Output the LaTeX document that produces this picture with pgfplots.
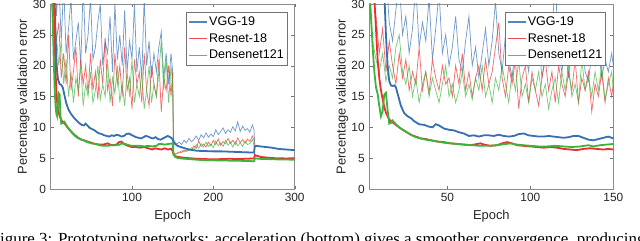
\documentclass[border=0pt]{standalone}
\usepackage{fontspec}
\setmainfont{Liberation Sans}
\newfontfamily\capfont{Liberation Serif}
\usepackage{pgfplots}
\pgfplotsset{compat=1.18}
\definecolor{vgg}{RGB}{55,112,178}
\definecolor{res}{RGB}{238,45,45}
\definecolor{den}{RGB}{60,180,60}
\pgfplotsset{
  myaxis/.style={
    scale only axis, width=183pt, height=138.75pt,
    ymin=0, ymax=30, ytick={0,5,...,30},
    tick align=inside, major tick length=2.5pt,
    axis line style={black!45}, tick style={black!55},
    /pgf/number format/assume math mode=true,
    tick label style={font=\fontsize{8.9}{10}\selectfont, text=black!85},
    label style={font=\fontsize{9.7}{11}\selectfont, text=black!85},
    xlabel={Epoch}, ylabel={Percentage validation error},
    xlabel style={yshift=1pt},
    ylabel style={yshift=-4.5pt},
    legend cell align=left,
    legend style={at={(0.97,0.955)}, anchor=north east, draw=black!55, fill=white,
      font=\fontsize{9.4}{10}\selectfont, inner sep=1.5pt,
      nodes={inner sep=1pt, text height=7pt, text depth=2pt}, row sep=1.6pt},
    legend image code/.code={\draw[#1, opacity=0.85, line width=1pt] (0,0) -- (13.5pt,0);},
  },
  noisy/.style={line width=0.55pt, opacity=0.7},
  smooth line/.style={line width=1.35pt, forget plot},
}
\begin{document}
\begin{tikzpicture}
\useasboundingbox (0,0) rectangle (480pt,180.75pt);
\clip (0,0) rectangle (480pt,180.75pt);
\begin{axis}[myaxis, at={(38pt,39pt)}, anchor=south west, xmin=0, xmax=300, xtick={100,200,300}]
\addplot[vgg, noisy] coordinates {(1,45) (4,38) (7,28) (10,34) (13,24) (16,33) (19,22) (22,26) (25,31) (28,21) (31,24) (34,27) (37,20) (40,33) (43,22) (46,25) (49,31) (52,21) (55,23) (58,27) (61,30) (64,20) (67,24) (70,22) (73,28) (76,19) (79,30) (82,21) (85,25) (88,20) (91,29) (94,19) (97,24) (100,21) (103,30) (106,19) (109,23) (112,18) (115,31) (118,20) (121,24) (124,18) (127,22) (130,19) (133,23) (136,25.5) (139,18) (142,22) (145,17) (148,22) (150,19) (151,8.0) (152,7.8) (155,7.3) (158,7.6) (161,7.2) (164,7.9) (167,7.5) (170,8.2) (173,7.7) (176,8.0) (179,8.6) (182,7.9) (185,8.8) (188,8.3) (191,9.1) (194,8.4) (197,8.9) (200,8.5) (203,9.6) (206,8.8) (209,9.3) (212,9.9) (215,9.0) (218,9.6) (221,9.2) (224,10.1) (227,9.4) (230,10.9) (233,9.3) (236,10.2) (239,9.5) (242,9.8) (245,9.2) (248,10.4) (250,9.6) (251,7.0)};
\addlegendentry{VGG-19}
\addplot[res, noisy] coordinates {(1,40) (4,29) (7,24) (10,27) (13,18) (16,22) (19,17) (22,25) (25,16) (28,19) (31,23) (34,15) (37,21) (40,17) (43,20) (46,15.5) (49,22) (52,16) (55,19) (58,14.5) (61,21) (64,17) (67,24.5) (70,16) (73,18) (76,13.5) (79,22) (82,17) (85,20) (88,15) (91,23) (94,16) (97,18) (100,13) (103,21) (106,17) (109,19) (112,14) (115,22) (118,16) (121,13.5) (124,20) (127,17) (130,15) (133,21) (136,12.5) (139,18) (142,16) (145,20) (148,15) (150,19) (151,6) (152,5.6) (155,5.8) (158,6.0) (161,5.9) (164,6.3) (167,6.1) (170,6.5) (173,6.3) (176,7.0) (179,6.6) (182,7.8) (185,6.9) (188,7.3) (191,6.8) (194,7.6) (197,7.0) (200,7.9) (203,7.2) (206,8.1) (209,7.1) (212,7.7) (215,7.3) (218,8.2) (221,7.4) (224,7.9) (227,7.2) (230,8.3) (233,7.5) (236,8.0) (239,7.4) (242,8.1) (245,7.7) (248,8.6) (250,7.9) (251,5.5)};
\addlegendentry{Resnet-18}
\addplot[den, noisy] coordinates {(1,30) (4,22) (7,25) (10,20) (13,24) (16,17) (19,21) (22,15) (25,19) (28,14) (31,18) (34,16) (37,20) (40,13.5) (43,17) (46,15) (49,19) (52,14) (55,16) (58,20) (61,14.5) (64,17) (67,15) (70,21) (73,14) (76,18) (79,15.5) (82,20) (85,14) (88,17) (91,13.5) (94,19) (97,15) (100,21) (103,14) (106,17) (109,15) (112,19) (115,13) (118,16) (121,20) (124,14) (127,17) (130,15) (133,19) (136,24) (139,16) (142,21) (145,14) (148,20) (150,17) (151,6) (152,5.5) (155,5.7) (158,5.9) (161,6.2) (164,6.0) (167,6.4) (170,6.2) (173,6.7) (176,6.4) (179,7.2) (182,6.6) (185,7.4) (188,6.8) (191,7.6) (194,6.9) (197,7.3) (200,6.7) (203,7.8) (206,7.0) (209,7.5) (212,6.9) (215,7.9) (218,7.1) (221,7.6) (224,6.8) (227,7.7) (230,7.0) (233,7.5) (236,6.9) (239,7.8) (242,7.2) (245,7.4) (248,8.0) (250,7.1) (251,5.0)};
\addlegendentry{Densenet121}
\addplot[vgg, smooth line] coordinates {(1,60) (3,40) (5,30) (6,25) (7,21) (8,19) (9,17.8) (11,17.0) (13,16.9) (15,16.4) (17,15.2) (19,14.0) (21,13.2) (23,12.6) (26,12.0) (29,11.5) (32,11.1) (35,10.7) (38,10.4) (41,10.3) (43,10.6) (45,10.3) (48,9.9) (51,9.7) (54,9.5) (57,9.2) (60,9.0) (63,8.9) (66,8.7) (69,8.6) (72,8.5) (75,8.7) (78,8.6) (81,8.8) (84,8.7) (87,8.5) (90,8.6) (93,8.9) (96,9.0) (99,8.8) (102,8.6) (105,8.4) (108,8.3) (111,8.2) (114,8.4) (117,8.6) (120,8.5) (123,8.3) (126,8.2) (129,8.4) (132,8.1) (135,8.0) (138,8.2) (141,8.4) (144,8.6) (147,8.4) (150,8.1) (151,7.6) (153,7.3) (156,7.0) (160,6.8) (165,6.6) (170,6.4) (175,6.3) (180,6.2) (190,6.15) (200,6.1) (210,6.1) (220,6.05) (230,6.0) (240,5.95) (250,5.9) (251,6.9) (253,7.0) (258,6.9) (265,6.8) (272,6.7) (280,6.5) (290,6.4) (300,6.3)};
\addplot[res, smooth line] coordinates {(1,50) (3,35) (5,24) (6,19) (7,16) (8,14) (9,13) (10,12.3) (12,11.5) (14,11.0) (16,10.7) (18,10.5) (20,10.1) (23,9.6) (26,9.2) (29,8.8) (32,8.5) (35,8.2) (38,8.0) (41,7.9) (45,7.7) (50,7.5) (55,7.3) (60,7.2) (65,7.2) (70,7.4) (73,7.2) (77,7.1) (81,7.2) (84,7.6) (87,7.7) (90,7.3) (95,7.0) (100,6.8) (105,6.8) (110,6.7) (115,6.8) (120,6.6) (125,6.4) (128,6.6) (132,6.5) (136,6.4) (140,6.6) (144,6.4) (148,6.5) (150,6.2) (151,5.6) (153,5.3) (157,5.2) (162,5.1) (170,5.0) (180,4.9) (190,4.85) (200,4.8) (210,4.85) (220,4.9) (230,4.85) (240,4.9) (250,4.95) (251,5.5) (253,5.4) (258,5.2) (265,5.1) (275,5.0) (290,4.95) (300,5.0)};
\addplot[den, smooth line] coordinates {(1,40) (3,25) (4,20) (5,16) (6,13.5) (7,12.2) (8,11.8) (9,14) (10,15.5) (11,15.3) (12,12) (13,10.6) (15,10.7) (17,10.9) (19,10.4) (21,10.0) (24,9.5) (27,9.0) (30,8.6) (33,8.3) (36,8.1) (40,7.9) (45,7.6) (50,7.4) (55,7.3) (60,7.1) (65,7.0) (70,7.0) (75,7.1) (80,7.1) (85,7.2) (88,7.4) (92,7.3) (96,7.1) (100,7.0) (105,7.0) (110,7.0) (115,6.9) (120,7.0) (125,6.9) (130,7.0) (133,7.3) (136,7.3) (140,7.2) (145,7.3) (150,7.4) (151,5.8) (153,5.2) (157,5.0) (165,4.9) (175,4.8) (185,4.7) (200,4.65) (220,4.6) (240,4.55) (250,4.5) (251,5.0) (255,4.9) (265,4.85) (280,4.8) (300,4.75)};
\end{axis}
\begin{axis}[myaxis, at={(277pt,39pt)}, anchor=south west, xmin=3, xmax=150, xtick={50,100,150}]
\addplot[vgg, noisy] coordinates {(3,60) (5,45) (7,38) (9,33) (11,31) (13,35) (15,27) (17,24) (19,29) (21,34) (23,25) (25,28) (27,22) (29,26) (31,33) (33,23) (35,27) (37,24) (39,31) (41,21) (43,26) (45,32) (47,22) (49,25) (51,20) (53,23) (55,28) (57,21) (59,19) (61,24) (63,28) (65,20) (67,23) (69,18) (71,22) (73,26) (75,20) (77,24) (79,30.5) (81,22) (83,19) (85,25) (87,21) (89,18) (91,23) (93,27) (95,20) (97,22) (99,19) (101,27) (103,21) (105,24) (107,18) (109,22) (111,20) (113,25) (115,34) (117,22) (119,19) (121,23) (123,18) (125,24) (127,27) (129,21) (131,25) (133,19) (135,17.5) (137,22) (139,20) (141,23) (143,18) (145,21) (147,19) (149,22) (150,20)};
\addlegendentry{VGG-19}
\addplot[res, noisy] coordinates {(3,55) (5,32) (7,28) (9,22) (11,26) (13,19) (15,24) (17,20) (19,17) (21,22) (23,18) (25,21) (27,16) (29,19) (31,17) (33,23) (35,16) (37,19) (39,15.5) (41,21) (43,18) (45,16) (47,20) (49,17) (51,18) (53,15) (55,20) (57,17) (59,22) (61,16) (63,19) (65,15) (67,18) (69,20) (71,16) (73,21) (75,17) (77,19) (79,23) (81,27) (83,18) (85,15) (87,20) (89,17) (91,21) (93,13) (95,18) (97,20) (99,14) (101,19) (103,16) (105,13.5) (107,18) (109,21) (111,16) (113,19) (115,14) (117,20) (119,17) (121,15) (123,19) (125,16) (127,21) (129,14) (131,18) (133,16) (135,19) (137,12.5) (139,17) (141,15) (143,19) (145,14) (147,18) (149,15) (150,17)};
\addlegendentry{Resnet-18}
\addplot[den, noisy] coordinates {(3,30) (5,24) (7,21) (9,19) (11,22) (13,17.5) (15,20) (17,18) (19,23) (21,25) (23,19) (25,17) (27,20) (29,15) (31,18) (33,14) (35,17) (37,19) (39,15) (41,18) (43,16) (45,14) (47,17) (49,20) (51,15) (53,17) (55,14) (57,16) (59,19) (61,15) (63,17) (65,14.5) (67,18) (69,16) (71,20) (73,15) (75,17) (77,14) (79,18) (81,16) (83,20) (85,17) (87,14) (89,19) (91,16) (93,21) (95,15) (97,17) (99,14) (101,18) (103,16) (105,19) (107,15) (109,17) (111,13) (113,16) (115,18) (117,14) (119,19) (121,16) (123,20) (125,15) (127,17) (129,14) (131,21) (133,16) (135,18) (137,15) (139,19) (141,16) (143,20) (145,14.5) (147,17) (149,19) (150,16)};
\addlegendentry{Densenet121}
\addplot[vgg, smooth line] coordinates {(3,80) (10,45) (12,32) (13,25) (14,20) (15,17.5) (16,16.8) (17,16.7) (18,16.8) (19,16.5) (20,15.5) (22,13.5) (24,12.3) (26,11.8) (28,11.5) (30,11.0) (33,10.5) (36,10.4) (39,10.1) (41,10.0) (43,10.5) (45,10.3) (48,9.8) (51,9.6) (54,9.5) (57,9.2) (60,9.0) (63,8.6) (66,8.7) (69,8.5) (72,8.7) (75,8.7) (78,8.6) (81,8.8) (84,8.6) (87,8.5) (90,8.6) (93,8.9) (96,9.0) (99,8.7) (102,8.6) (105,8.5) (108,8.5) (111,8.6) (114,8.5) (117,8.4) (120,8.3) (123,8.4) (126,8.6) (129,8.6) (132,8.3) (135,8.0) (138,7.9) (141,8.1) (144,8.3) (147,8.5) (150,8.2)};
\addplot[res, smooth line] coordinates {(3,60) (5,36) (6,31) (7,26) (8,21) (9,18) (10,16) (11,14.6) (12,13.3) (13,12.4) (14,11.8) (15,11.3) (16,11.0) (18,10.6) (20,10.2) (22,9.8) (25,9.3) (28,8.8) (31,8.5) (34,8.2) (37,8.1) (40,7.9) (44,7.7) (48,7.6) (52,7.4) (56,7.3) (60,7.2) (64,7.1) (68,7.3) (70,7.4) (72,7.2) (76,7.0) (80,7.1) (83,7.4) (86,7.6) (89,7.4) (92,7.1) (96,7.0) (100,6.9) (104,6.8) (108,6.7) (112,6.8) (116,6.7) (120,6.5) (124,6.4) (128,6.3) (132,6.5) (136,6.6) (140,6.5) (144,6.4) (147,6.5) (150,6.4)};
\addplot[den, smooth line] coordinates {(3,33) (4,28) (5,23) (6,19) (7,16.5) (8,15.4) (9,13.5) (10,11.8) (11,12.6) (12,15.3) (13,15.6) (14,12.8) (15,10.6) (16,10.7) (17,11.1) (18,10.8) (19,10.5) (20,10.2) (22,9.8) (25,9.3) (28,8.8) (31,8.4) (34,8.2) (37,8.0) (40,7.9) (44,7.7) (48,7.5) (52,7.4) (56,7.3) (60,7.2) (65,7.1) (70,7.0) (75,7.0) (80,7.1) (85,7.3) (88,7.4) (92,7.2) (96,7.1) (100,7.0) (105,6.9) (110,6.9) (115,7.0) (120,6.9) (125,6.8) (130,6.9) (135,7.1) (138,6.9) (142,7.1) (146,7.2) (150,7.3)};
\end{axis}
\node[anchor=base west, inner sep=0, font=\capfont\fontsize{12.7}{14}\selectfont] at (-7.1pt,-2.8pt) {Figure 3: Prototyping networks: acceleration (bottom) gives a smoother convergence, producing};
\end{tikzpicture}
\end{document}
